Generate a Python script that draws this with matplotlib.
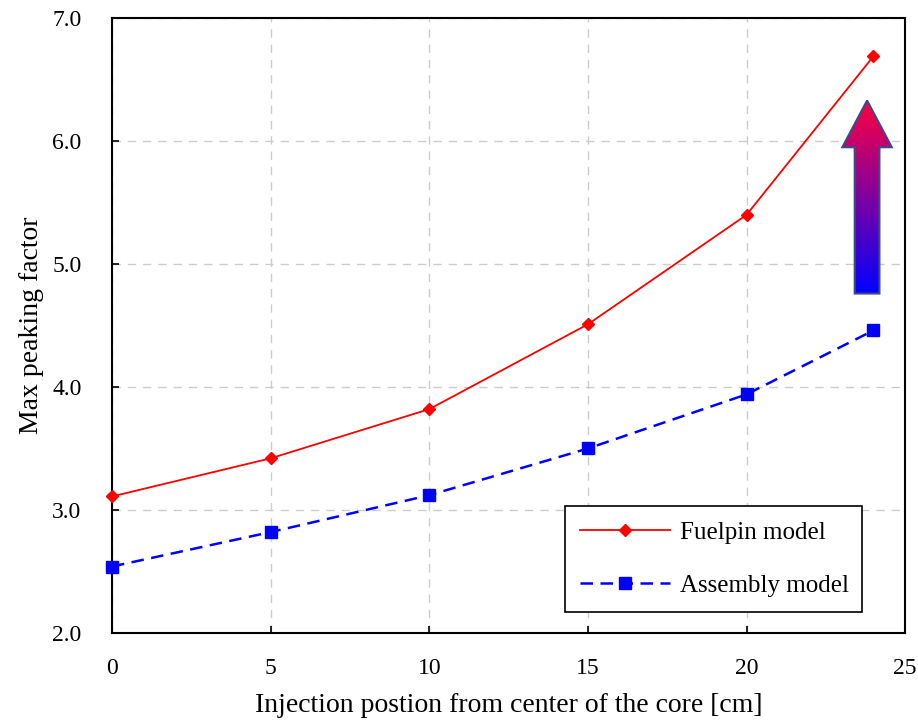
"""Max peaking factor vs injection position"""
import numpy as np
import matplotlib.pyplot as plt
from matplotlib.patches import Polygon

positions = [0, 5, 10, 15, 20, 24]
fuelpin = [3.11, 3.42, 3.82, 4.51, 5.40, 6.69]
assembly = [2.54, 2.82, 3.12, 3.50, 3.94, 4.46]
x_ticks = [0, 5, 10, 15, 20, 25]
y_ticks = [2.0, 3.0, 4.0, 5.0, 6.0, 7.0]

plt.rcParams['font.family'] = ['Liberation Serif', 'DejaVu Serif']


def main():
    """draw the chart"""
    fig = plt.figure(figsize=(9.18, 7.25), dpi=100)
    ax = fig.add_axes([0.122, 0.127, 0.864, 0.848])

    ax.plot(positions, fuelpin, color="red", marker="D", markersize=6,
            linewidth=1.3, label="Fuelpin model", clip_on=False, zorder=5)
    ax.plot(positions, assembly, color="blue", marker="s", markersize=8,
            linewidth=1.8, linestyle=(0, (5, 3)), label="Assembly model",
            clip_on=False, zorder=5)

    ax.set_xlim(0, 25)
    ax.set_ylim(2.0, 7.0)
    ax.set_xticks(x_ticks)
    ax.set_yticks(y_ticks)
    ax.set_yticklabels([f"{v:.1f}" for v in y_ticks])
    ax.tick_params(direction="in", labelsize=17, length=5, width=1.2)
    ax.tick_params(axis="y", pad=22)
    ax.tick_params(axis="x", pad=18)
    for s in ax.spines.values():
        s.set_linewidth(1.5)
    ax.grid(True, color="#cccccc", linestyle=(0, (6, 5)), linewidth=1)

    ax.set_xlabel("Injection postion from center of the core [cm]",
                  fontsize=20, labelpad=10)
    ax.set_ylabel("Max peaking factor", fontsize=20, labelpad=6)

    # gradient arrow (blue -> red)
    cx, y0, y1 = 23.8, 4.76, 6.33
    bw, hw, hl = 0.39, 0.78, 0.38
    pts = [(cx - bw, y0), (cx + bw, y0), (cx + bw, y1 - hl), (cx + hw, y1 - hl),
           (cx, y1), (cx - hw, y1 - hl), (cx - bw, y1 - hl)]
    arrow = Polygon(pts, closed=True, facecolor="none", edgecolor="#3c4a8a",
                    linewidth=1.5, zorder=4)
    ax.add_patch(arrow)
    t = np.linspace(0, 1, 256).reshape(-1, 1)
    grad = np.zeros((256, 1, 3))
    grad[..., 0] = t
    grad[..., 1] = 0.0
    grad[..., 2] = 1 - t * 0.75
    img = ax.imshow(grad, extent=(cx - hw, cx + hw, y0, y1), origin="lower",
                    aspect="auto", zorder=3)
    img.set_clip_path(arrow)

    leg = ax.legend(loc="lower left", bbox_to_anchor=(0.571, 0.034, 0.375, 0.171),
                    mode="expand", fontsize=18, fancybox=False, framealpha=1,
                    edgecolor="black", borderpad=0.62, labelspacing=1.2,
                    handlelength=3.6, borderaxespad=0, handletextpad=0.4)
    leg.get_frame().set_linewidth(1.2)
    ax.set_xlim(0, 25)
    ax.set_ylim(2.0, 7.0)

    fig.savefig("out.png", dpi=100)


main()
